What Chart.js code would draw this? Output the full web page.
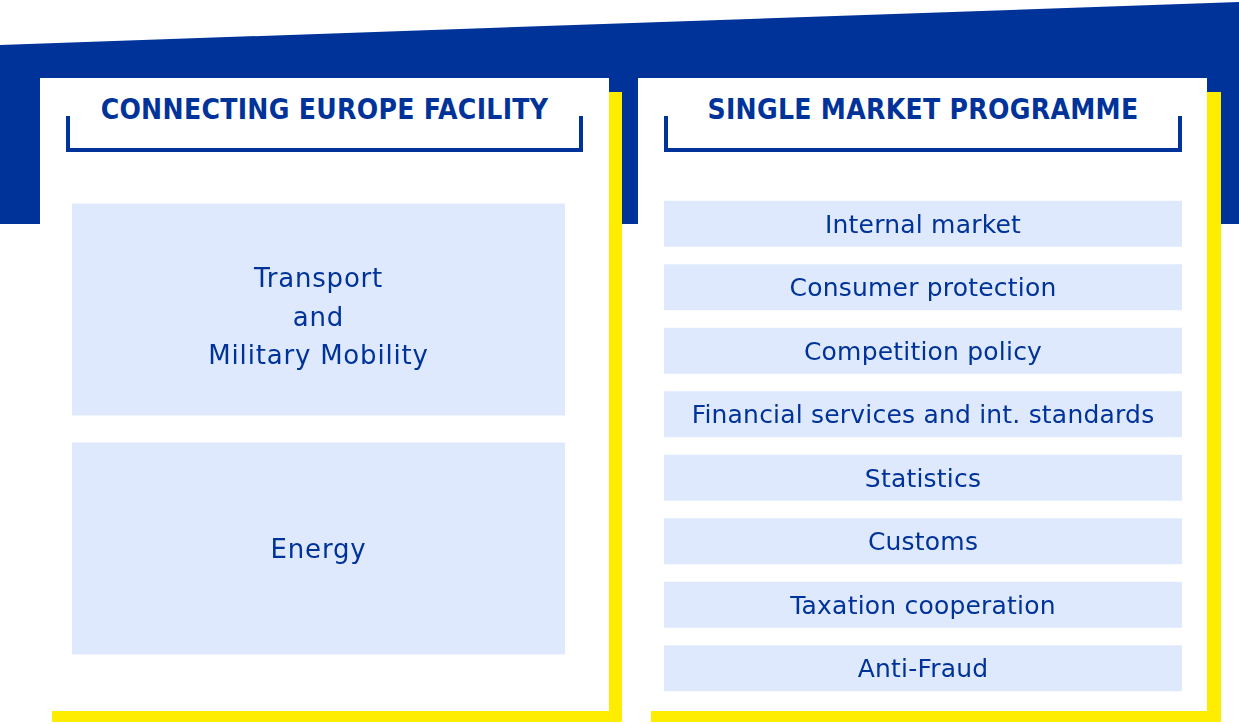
<!DOCTYPE html>
<html>
<head>
<meta charset="utf-8">
<script src="https://cdn.jsdelivr.net/npm/chart.js@4.4.1/dist/chart.umd.min.js"></script>
<style>
  html, body { margin: 0; padding: 0; background: #ffffff; }
  #stage { position: relative; width: 1239px; height: 724px; overflow: hidden; background: #ffffff; }
  .abs { position: absolute; }
  #roof { left: 0; top: 0; width: 1239px; height: 224px; background: #003399;
          clip-path: polygon(0 45px, 100% 2px, 100% 100%, 0 100%); }
  .shadow { background: #ffed00; }
  .panel { background: #ffffff; }
  .bracket { border: 4px solid #003399; border-top: none; box-sizing: border-box; }
  .head { font-family: "DejaVu Sans Condensed", "DejaVu Sans", sans-serif; font-stretch: condensed;
          font-weight: bold; font-size: 28px; line-height: 28px; color: #003399; text-align: center;
          white-space: nowrap; letter-spacing: 0.3px; }
  .chartbox { position: absolute; }
</style>
</head>
<body>
<div id="stage">
  <div id="roof" class="abs"></div>
  <div class="abs shadow" style="left:52px;top:92px;width:570px;height:630px;"></div>
  <div class="abs shadow" style="left:651px;top:92px;width:570px;height:630px;"></div>
  <div class="abs panel" style="left:40px;top:78px;width:569px;height:633px;"></div>
  <div class="abs panel" style="left:638px;top:78px;width:569px;height:633px;"></div>
  <div class="abs bracket" style="left:66px;top:116px;width:517px;height:36px;"></div>
  <div class="abs bracket" style="left:664px;top:116px;width:518px;height:36px;"></div>
  <div id="cefTitle" class="abs head" style="left:66px;top:96px;width:517px;"></div>
  <div id="smpTitle" class="abs head" style="left:664px;top:96px;width:518px;"></div>
  <div class="chartbox" style="left:72px;top:190px;width:493px;height:478px;"><canvas id="cef"></canvas></div>
  <div class="chartbox" style="left:664px;top:192px;width:518px;height:508px;"><canvas id="smp"></canvas></div>
</div>
<script>
// ---- data ----
const cefTitle = "CONNECTING EUROPE FACILITY";
const smpTitle = "SINGLE MARKET PROGRAMME";
const cefCategories = [["Transport", "and", "Military Mobility"], ["Energy"]];
const cefValues = [1, 1];
const smpCategories = ["Internal market", "Consumer protection", "Competition policy",
  "Financial services and int. standards", "Statistics", "Customs",
  "Taxation cooperation", "Anti-Fraud"];
const smpValues = [1, 1, 1, 1, 1, 1, 1, 1];

document.getElementById('cefTitle').textContent = cefTitle;
document.getElementById('smpTitle').textContent = smpTitle;

const BOX = '#dfe9fd';
const INK = '#003399';

const labelPlugin = {
  id: 'boxLabels',
  afterDatasetsDraw(chart, args, opts) {
    const ctx = chart.ctx;
    const meta = chart.getDatasetMeta(0);
    ctx.save();
    ctx.fillStyle = INK;
    ctx.font = opts.size + 'px "DejaVu Sans", sans-serif';
    if ('letterSpacing' in ctx) ctx.letterSpacing = (opts.spacing || 0) + 'px';
    ctx.textAlign = 'center';
    ctx.textBaseline = 'alphabetic';
    meta.data.forEach((bar, i) => {
      const raw = chart.data.labels[i];
      const lines = Array.isArray(raw) ? raw : [raw];
      const cx = (bar.x + bar.base) / 2;
      const n = lines.length;
      lines.forEach((t, j) => {
        const y = bar.y + opts.size * 0.365 + (j - (n - 1) / 2) * opts.lineHeight + (n > 1 ? opts.multiShift : 0);
        ctx.fillText(t, cx, y);
      });
    });
    ctx.restore();
  }
};

function makeChart(id, labels, values, barPct, labelOpts) {
  return new Chart(document.getElementById(id), {
    type: 'bar',
    data: {
      labels: labels,
      datasets: [{
        data: values,
        backgroundColor: BOX,
        borderWidth: 0,
        barPercentage: barPct,
        categoryPercentage: 1
      }]
    },
    options: {
      indexAxis: 'y',
      responsive: true,
      maintainAspectRatio: false,
      animation: false,
      layout: { padding: 0 },
      events: [],
      scales: {
        x: { display: false, min: 0, max: 1 },
        y: { display: false, offset: true }
      },
      plugins: {
        legend: { display: false },
        tooltip: { enabled: false },
        boxLabels: labelOpts
      }
    },
    plugins: [labelPlugin]
  });
}

makeChart('cef', cefCategories, cefValues, 212 / 239, { size: 26, spacing: 0.8, lineHeight: 38.5, multiShift: 7 });
makeChart('smp', smpCategories, smpValues, 46 / 63.5, { size: 25, spacing: 0.2, lineHeight: 30, multiShift: 0 });
</script>
</body>
</html>
